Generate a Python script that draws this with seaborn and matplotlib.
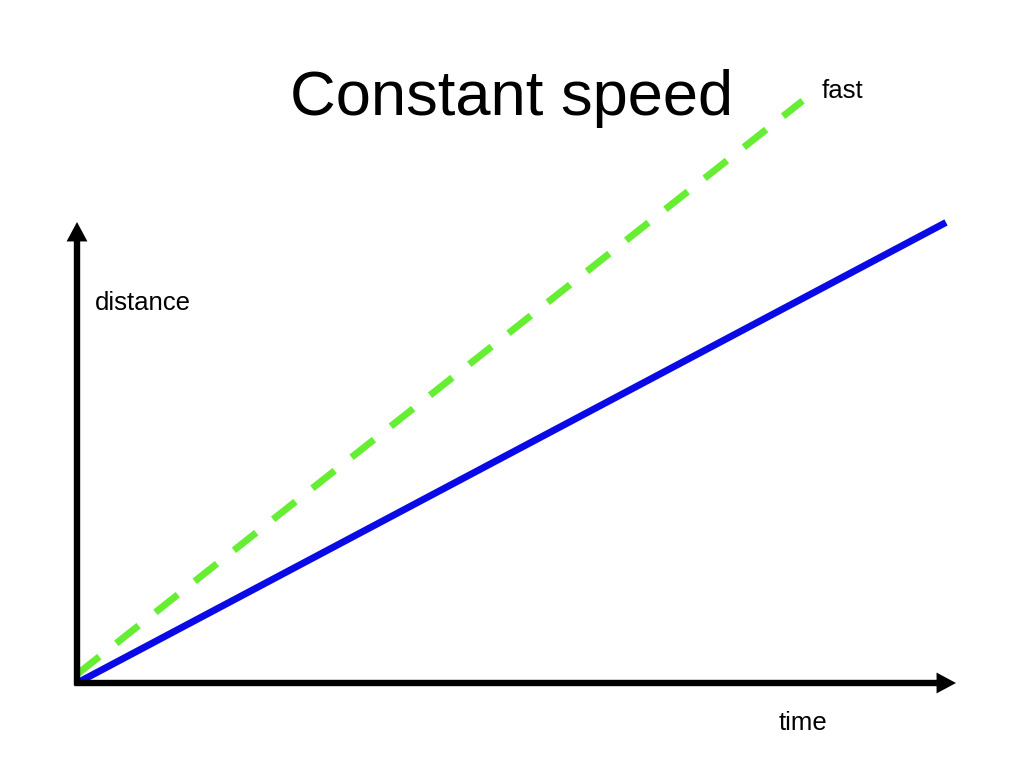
import seaborn as sns
import pandas as pd
import matplotlib.pyplot as plt

# two objects moving at constant speed
time_slow = [0, 10]
dist_slow = [0, 5.3]
time_fast = [0, 8.35]
dist_fast = [0.1, 6.7]

sns.set_style('white')
plt.rcParams['font.family'] = ['Liberation Sans', 'DejaVu Sans']
plt.rcParams['text.color'] = 'black'

df = pd.DataFrame({
    'time': time_slow + time_fast,
    'distance': dist_slow + dist_fast,
    'speed': ['slow'] * len(time_slow) + ['fast'] * len(time_fast),
})

fig = plt.figure(figsize=(10.24, 7.68), dpi=100)
ax = fig.add_axes([77 / 1024, 85 / 768, 879 / 1024, 461 / 768])

sns.lineplot(data=df[df.speed == 'slow'], x='time', y='distance',
             color='#0a0ae6', lw=5, ax=ax, clip_on=False)
sns.lineplot(data=df[df.speed == 'fast'], x='time', y='distance',
             color='#66ee33', lw=5, ax=ax, clip_on=False)
ax.lines[1].set_dashes((4.1, 3.1))
ax.lines[1].set_dash_capstyle('butt')
ax.lines[0].set_solid_capstyle('butt')

ax.set_xlim(0, 10.115)
ax.set_ylim(0, 5.305)
ax.set_xticks([])
ax.set_yticks([])
ax.set_xlabel('')
ax.set_ylabel('')
sns.despine(ax=ax, left=True, bottom=True)

# axis arrows (filled heads)
arrow = dict(width=4.6, headwidth=15, headlength=14, shrink=0,
             facecolor='black', edgecolor='none')
ax.annotate('', xy=(1, 0), xytext=(-0.003, 0), xycoords='axes fraction',
            arrowprops=arrow, annotation_clip=False)
ax.annotate('', xy=(0, 1), xytext=(0, -0.005), xycoords='axes fraction',
            arrowprops=arrow, annotation_clip=False)

fig.text(512 / 1024, 1 - 98 / 768, 'Constant speed', fontsize=45.5,
         ha='center', va='center')
fig.text(822 / 1024, 1 - 91 / 768, 'fast', fontsize=18.5, ha='left', va='center')
fig.text(95 / 1024, 1 - 303 / 768, 'distance', fontsize=18.5, ha='left', va='center')
fig.text(779 / 1024, 1 - 723 / 768, 'time', fontsize=18.5, ha='left', va='center')

fig.savefig('out.png', dpi=100)
